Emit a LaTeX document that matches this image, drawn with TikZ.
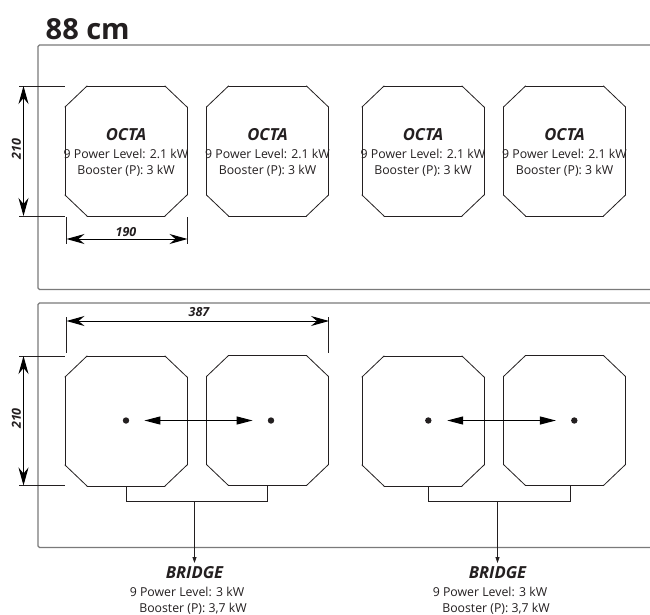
\documentclass[tikz,border=0pt]{standalone}
\usepackage{fontspec}
\setmainfont{Open Sans}
\usetikzlibrary{arrows.meta}
\definecolor{ink}{HTML}{231F20}
\definecolor{framegray}{HTML}{7A7A7A}
\tikzset{
  x=1pt,y=-1pt,
  hob/.style={rectangle,minimum width=122pt,minimum height=130pt,inner sep=0pt,outer sep=0pt,
    append after command={
      ([xshift=22pt]\tikzlastnode.north west) edge[hobedge] ([xshift=-22pt]\tikzlastnode.north east)
      ([xshift=-22pt]\tikzlastnode.north east) edge[hobedge] ([yshift=-21pt]\tikzlastnode.north east)
      ([yshift=-21pt]\tikzlastnode.north east) edge[hobedge] ([yshift=21pt]\tikzlastnode.south east)
      ([yshift=21pt]\tikzlastnode.south east) edge[hobedge] ([xshift=-22pt]\tikzlastnode.south east)
      ([xshift=-22pt]\tikzlastnode.south east) edge[hobedge] ([xshift=22pt]\tikzlastnode.south west)
      ([xshift=22pt]\tikzlastnode.south west) edge[hobedge] ([yshift=21pt]\tikzlastnode.south west)
      ([yshift=21pt]\tikzlastnode.south west) edge[hobedge] ([yshift=-21pt]\tikzlastnode.north west)
      ([yshift=-21pt]\tikzlastnode.north west) edge[hobedge] ([xshift=22pt]\tikzlastnode.north west)
    }},
  hobedge/.style={draw=ink,line width=0.8pt,line cap=round},
  frameline/.style={draw=framegray,line width=1.2pt},
  extline/.style={draw=ink,line width=0.6pt},
  dimline/.style={draw=black,line width=1pt,{Stealth[length=18pt,width=10pt,inset=6pt]}-{Stealth[length=18pt,width=10pt,inset=6pt]}},
  dbl/.style={draw=black,line width=1.1pt,{Stealth[length=16pt,width=8pt,inset=0pt]}-{Stealth[length=16pt,width=8pt,inset=0pt]}},
  feed/.style={draw=ink,line width=0.8pt},
  drop/.style={draw=ink,line width=0.8pt,-{Stealth[length=6pt,width=4pt,inset=0pt]}},
  dotmark/.style={circle,fill=ink,minimum size=6.4pt,inner sep=0pt},
  dimlabel/.style={font=\fontsize{12.5}{14}\selectfont\bfseries\itshape,text=ink,inner sep=0pt},
  headlabel/.style={font=\fontsize{16.6}{18}\selectfont\bfseries\itshape,text=ink,inner sep=0pt},
  bodylabel/.style={font=\fontsize{12.3}{14}\selectfont,text=ink,inner sep=0pt},
  titlelabel/.style={font=\fontsize{29}{32}\selectfont\bfseries,text=ink,inner sep=0pt}
}
\begin{document}
\begin{tikzpicture}
\useasboundingbox (0,0) rectangle (650,614);
\fill[white] (0,0) rectangle (650,614);
\node[titlelabel,anchor=west] (title) at (45.5,29) {88 cm};
% frames
\coordinate (f1a) at (650,45); \coordinate (f1b) at (38,45);
\coordinate (f1c) at (38,289.5); \coordinate (f1d) at (650,289.5);
\draw[frameline,rounded corners=1.5pt] (f1a) -- (f1b) -- (f1c) -- (f1d);
\coordinate (f2a) at (650,303); \coordinate (f2b) at (38,303);
\coordinate (f2c) at (38,547.5); \coordinate (f2d) at (650,547.5);
\draw[frameline,rounded corners=1.5pt] (f2a) -- (f2b) -- (f2c) -- (f2d);
% top hobs
\node[hob] (o1) at (126,151) {};
\node[hob] (o2) at (267.5,151) {};
\node[hob] (o3) at (423,151) {};
\node[hob] (o4) at (564.5,151) {};
\foreach \n/\cx in {a/126,b/267.5,c/423,d/564.5}{
  \node[headlabel] (h\n) at (\cx,134.5) {OCTA};
  \node[bodylabel] (p\n) at (\cx,153.5) {9 Power Level: 2.1 kW};
  \node[bodylabel] (q\n) at (\cx,170.5) {Booster (P): 3 kW};
}
% bottom hobs
\node[hob] (b1) at (126,421) {};
\node[hob] (b2) at (267.5,420.5) {};
\node[hob] (b3) at (423,421) {};
\node[hob] (b4) at (564.5,420.5) {};
% top dims
\coordinate (e1a) at (19,86); \coordinate (e1b) at (65,86);
\coordinate (e2a) at (19,216); \coordinate (e2b) at (65,216);
\draw[extline] (e1a) -- (e1b);
\draw[extline] (e2a) -- (e2b);
\coordinate (v1a) at (23.5,86); \coordinate (v1b) at (23.5,216);
\draw[dimline] (v1a) -- (v1b);
\node[dimlabel,rotate=90] (l210a) at (16.5,149) {210};
\coordinate (e3a) at (66.5,217); \coordinate (e3b) at (66.5,243.5);
\coordinate (e4a) at (187,217); \coordinate (e4b) at (187,243.5);
\draw[extline] (e3a) -- (e3b);
\draw[extline] (e4a) -- (e4b);
\coordinate (h1a) at (66.5,239); \coordinate (h1b) at (187.5,239);
\draw[dimline] (h1a) -- (h1b);
\node[dimlabel] (l190) at (126,232) {190};
% bottom dims
\coordinate (e5a) at (19,356); \coordinate (e5b) at (65,356);
\coordinate (e6a) at (19,485.5); \coordinate (e6b) at (65,485.5);
\draw[extline] (e5a) -- (e5b);
\draw[extline] (e6a) -- (e6b);
\coordinate (v2a) at (23.5,356); \coordinate (v2b) at (23.5,485.5);
\draw[dimline] (v2a) -- (v2b);
\node[dimlabel,rotate=90] (l210b) at (16.5,418.5) {210};
\coordinate (e7a) at (66.5,317); \coordinate (e7b) at (66.5,353);
\coordinate (e8a) at (328,317); \coordinate (e8b) at (328,353);
\draw[extline] (e7a) -- (e7b);
\draw[extline] (e8a) -- (e8b);
\coordinate (h2a) at (66.5,321); \coordinate (h2b) at (329,321);
\draw[dimline] (h2a) -- (h2b);
\node[dimlabel] (l387) at (199,312) {387};
% dots and double arrows
\node[dotmark] (d1) at (126,420.5) {};
\node[dotmark] (d2) at (271,420.5) {};
\node[dotmark] (d3) at (428.3,420.5) {};
\node[dotmark] (d4) at (574.3,420.5) {};
\draw[dbl] ([xshift=15pt]d1.east) -- ([xshift=-15pt]d2.west);
\draw[dbl] ([xshift=15.5pt]d3.east) -- ([xshift=-15pt]d4.west);
% brackets and drops
\coordinate (s1) at (126,486.5); \coordinate (s1b) at (126,501.5);
\coordinate (s2) at (267,486); \coordinate (s2b) at (267,501.5);
\coordinate (s3) at (428.7,486.5); \coordinate (s3b) at (428.7,501.5);
\coordinate (s4) at (570,486); \coordinate (s4b) at (570,501.5);
\draw[feed] (s1) -- (s1b) -- (s2b) -- (s2);
\draw[feed] (s3) -- (s3b) -- (s4b) -- (s4);
\coordinate (m1) at (194.5,501.5); \coordinate (m2) at (497.5,501.5);
\node[headlabel] (br1) at (194.5,572.5) {BRIDGE};
\node[headlabel] (br2) at (497.5,572.5) {BRIDGE};
\draw[drop] (m1) -- (194.5,563);
\draw[drop] (m2) -- (497.5,563);
\node[bodylabel] (br1p) at (187,591.5) {9 Power Level: 3 kW};
\node[bodylabel] (br1q) at (193,608.5) {Booster (P): 3,7 kW};
\node[bodylabel] (br2p) at (490,591.5) {9 Power Level: 3 kW};
\node[bodylabel] (br2q) at (496,608.5) {Booster (P): 3,7 kW};
\end{tikzpicture}
\end{document}
